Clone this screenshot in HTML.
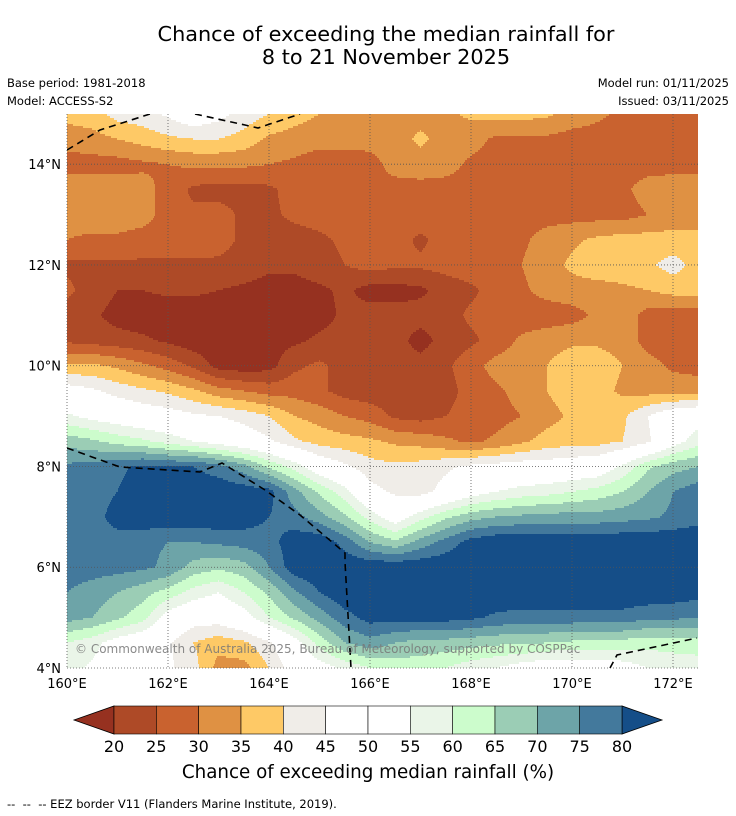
<!DOCTYPE html>
<html><head><meta charset="utf-8"><style>
html,body{margin:0;padding:0;background:#fff;}
body{width:736px;height:816px;position:relative;overflow:hidden;font-family:"DejaVu Sans","Liberation Sans",sans-serif;}
.t{position:absolute;color:#000;white-space:nowrap;}
</style></head><body>
<div class="t" style="left:0;width:772px;text-align:center;top:23px;font-size:20.8px;line-height:23px;">Chance of exceeding the median rainfall for<br>8 to 21 November 2025</div>
<div class="t" style="left:7px;top:76px;font-size:11.5px;">Base period: 1981-2018</div>
<div class="t" style="left:7px;top:94px;font-size:11.5px;">Model: ACCESS-S2</div>
<div class="t" style="right:7px;top:76px;font-size:11.5px;">Model run: 01/11/2025</div>
<div class="t" style="right:7px;top:94px;font-size:11.5px;">Issued: 03/11/2025</div>
<svg id="svg" width="736" height="816" style="position:absolute;left:0;top:0"></svg>
<div class="t" style="left:0;width:736px;text-align:center;top:762px;font-size:18.3px;">Chance of exceeding median rainfall (%)</div>
<div class="t" style="left:7px;top:797px;font-size:11.5px;">-- &nbsp;-- &nbsp;-- EEZ border V11 (Flanders Marine Institute, 2019).</div>
<script>
const lons=[160,160.5,161,161.5,162,162.5,163,163.5,164,164.5,165,165.5,166,166.5,167,167.5,168,168.5,169,169.5,170,170.5,171,171.5,172,172.5];
const lats=[15,14.5,14,13.5,13,12.5,12,11.5,11,10.5,10,9.5,9,8.5,8,7.5,7,6.5,6,5.5,5,4.5,4];
const grid=[
[37,38,42,43,46,50,47,43,40,37,35,33,33,33,33,34,36,37,37,36,33,31,29,28,28,28],
[32,33,35,37,39,40,40,38,34,33,32,32,32,33,36,33,32,29,29,29,28,28,28,28,28,28],
[28,28,28,29,30,31,31,31,30,29,27,27,28,32,33,32,29,28,28,28,28,28,28,28,28,28],
[33,33,33,32,28,24,23,23,24,27,28,28,29,28,28,28,28,28,28,28,28,28,29,32,33,33],
[32,33,33,32,28,26,27,24,24,26,27,28,28,28,28,28,28,28,28,28,28,28,28,30,32,32],
[30,29,29,28,28,28,27,24,23,23,24,26,27,27,24,27,28,28,29,32,34,36,37,37,37,37],
[24,24,24,24,24,24,24,23,21,21,23,25,27,26,26,27,28,28,30,33,36,38,38,39,42,38],
[26,23,20,20,21,21,20,19,18,18,19,21,18,18,19,22,24,27,29,32,33,33,34,35,37,38],
[23,21,18,17,17,17,17,17,17,17,18,21,22,22,22,23,26,27,27,27,28,31,33,28,27,27],
[24,23,22,21,19,17,17,17,18,19,21,22,22,22,18,22,24,27,31,33,34,34,33,28,27,27],
[36,36,34,31,28,24,18,17,18,24,26,23,22,22,22,24,28,32,33,35,38,38,35,32,29,28],
[48,46,43,41,39,36,32,30,28,28,26,23,22,22,22,23,27,29,32,35,38,37,34,33,33,33],
[56,53,51,49,48,46,45,43,40,35,33,30,28,24,23,25,27,28,30,33,36,38,39,45,50,52],
[68,66,63,61,58,55,52,49,46,41,38,37,36,34,33,31,29,31,34,37,38,38,40,44,52,58],
[76,77,79,81,80,80,77,72,64,58,50,46,42,41,42,44,46,47,48,48,49,50,56,64,68,70],
[76,77,80,83,84,84,84,83,82,72,64,57,47,44,43,47,52,55,57,58,60,62,65,70,75,78],
[76,77,83,84,84,84,84,83,80,77,72,66,58,51,58,64,68,70,71,72,72,72,73,74,76,78],
[77,77,77,76,75,75,76,77,78,83,84,78,70,66,72,77,82,84,84,84,84,84,84,84,84,84],
[77,77,77,76,74,68,66,68,75,83,84,84,84,84,84,84,84,84,84,84,84,84,84,84,84,84],
[75,73,70,67,63,58,55,60,66,74,80,84,84,84,84,84,84,84,84,84,84,84,84,84,83,82],
[72,70,66,62,52,48,48,52,60,66,72,78,82,82,82,82,81,79,78,78,78,78,78,76,76,75],
[60,57,52,49,46,40,37,39,44,52,62,70,73,70,68,68,67,66,66,65,64,63,63,62,62,62],
[57,54,50,48,46,42,33,33,40,48,52,56,60,62,62,60,57,55,52,50,50,51,52,55,57,58]
];
const levels=[20,25,30,35,40,45,50,55,60,65,70,75,80];
const binColors=["#963120","#ae4a27","#c9622f","#df9143","#fec966","#f0ede8","#ffffff","#ffffff","#eaf5e8","#ccfccc","#9bcdb5","#6da4a8","#43799c","#154e88"];
const xTicks=[160,162,164,166,168,170,172];
const yTicks=[4,6,8,10,12,14];

const NS="http://www.w3.org/2000/svg";
const svg=document.getElementById('svg');
const X0=67,X1=698,Y0=114,Y1=668;
const FONT='DejaVu Sans, Liberation Sans, sans-serif';
function xScale(lon){return 67+(lon-160)*50.5;}
function yScale(lat){return 668-(lat-4)*50.38;}
function binOf(v){let i=0;while(i<levels.length&&v>=levels[i])i++;return i;}
function mk(tag,attrs){const e=document.createElementNS(NS,tag);for(const k in attrs)e.setAttribute(k,attrs[k]);return e;}
function valueAt(lon,lat){
  let fi=(lon-lons[0])/(lons[1]-lons[0]);let fj=(lats[0]-lat)/(lats[0]-lats[1]);
  fi=Math.max(0,Math.min(lons.length-1.0001,fi));fj=Math.max(0,Math.min(lats.length-1.0001,fj));
  const i=Math.floor(fi),j=Math.floor(fj),a=fi-i,b=fj-j;
  return grid[j][i]*(1-a)*(1-b)+grid[j][i+1]*a*(1-b)+grid[j+1][i]*(1-a)*b+grid[j+1][i+1]*a*b;
}
const clip=mk('clipPath',{id:'mapclip'});clip.appendChild(mk('rect',{x:X0,y:Y0,width:X1-X0,height:Y1-Y0}));svg.appendChild(clip);
const map=mk('g',{'clip-path':'url(#mapclip)'});


svg.appendChild(map);
const step=2;
for(let py=Y0;py<Y1;py+=step){
  const lat=4+(668-(py+step/2))/50.38;
  let start=X0,cur=binOf(valueAt(160+(X0+0.5-67)/50.5,lat));
  for(let px=X0+1;px<=X1;px++){
    const b=px<X1?binOf(valueAt(160+(px+0.5-67)/50.5,lat)):-1;
    if(b!==cur){
      const r=mk('rect',{x:start,y:py,width:px-start+0.5,height:step+0.3,fill:binColors[cur]});
      
      
      map.appendChild(r);start=px;cur=b;
    }
  }
}
xTicks.forEach(t=>{const l=mk('line',{x1:xScale(t),x2:xScale(t),y1:Y0,y2:Y1,stroke:'#555','stroke-width':0.8,'stroke-dasharray':'1,2'});svg.appendChild(l);
  const tx=mk('text',{x:xScale(t),y:688,'font-size':13,'text-anchor':'middle','font-family':FONT});tx.textContent=t+'°E';svg.appendChild(tx);});
yTicks.forEach(t=>{const l=mk('line',{x1:X0,x2:X1,y1:yScale(t),y2:yScale(t),stroke:'#555','stroke-width':0.8,'stroke-dasharray':'1,2'});svg.appendChild(l);
  const tx=mk('text',{x:61,y:yScale(t)+5,'font-size':13,'text-anchor':'end','font-family':FONT});tx.textContent=t+'°N';svg.appendChild(tx);});
[["67,150 100,130 150,114"],["195,114 245,125 258,128 300,114"],["67,448 120,467 200,472 222,463 265,490 300,515 345,553 345,562 351,668"],["610,668 617,655 697,638"]].forEach(p=>{
  const pl=mk('polyline',{points:p[0],fill:'none',stroke:'#000','stroke-width':1.6,'stroke-dasharray':'7,5','clip-path':'url(#mapclip)'});
  svg.appendChild(pl);});
const cp=mk('text',{x:75,y:653,'font-size':12,fill:'#777','fill-opacity':0.85,'font-family':FONT});cp.textContent='© Commonwealth of Australia 2025, Bureau of Meteorology, supported by COSPPac';
svg.appendChild(cp);
const cbX0=114,cbX1=622,cbY=706,cbH=28,bw=(cbX1-cbX0)/(levels.length-1);
const tl=mk('polygon',{points:`74,${cbY+cbH/2} ${cbX0},${cbY} ${cbX0},${cbY+cbH}`,fill:binColors[0],stroke:'#000','stroke-width':0.8});
svg.appendChild(tl);
const tr=mk('polygon',{points:`662,${cbY+cbH/2} ${cbX1},${cbY} ${cbX1},${cbY+cbH}`,fill:binColors[binColors.length-1],stroke:'#000','stroke-width':0.8});
svg.appendChild(tr);
for(let i=0;i<levels.length-1;i++){
  const r=mk('rect',{x:cbX0+i*bw,y:cbY,width:bw,height:cbH,fill:binColors[i+1],stroke:'#000','stroke-width':0.6});
  svg.appendChild(r);
}
levels.forEach((v,i)=>{const tx=mk('text',{x:cbX0+i*bw,y:752,'font-size':16,'text-anchor':'middle','font-family':FONT});tx.textContent=v;
  svg.appendChild(tx);});
</script>
</body></html>
